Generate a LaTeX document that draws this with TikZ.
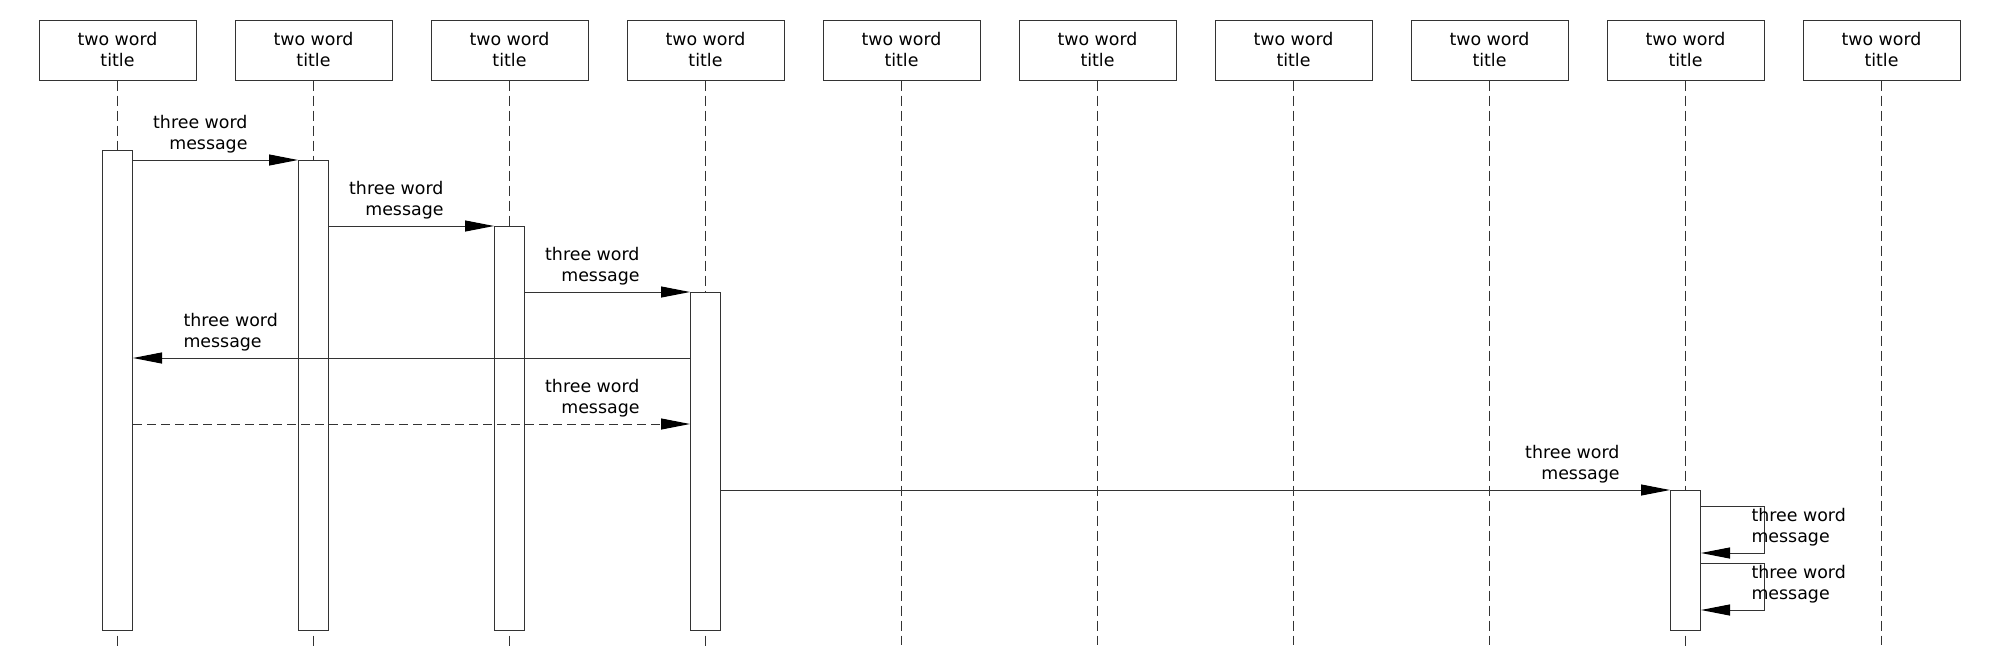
\documentclass[tikz,border=0pt]{standalone}
\usepackage{fontspec}
\setmainfont{DejaVu Sans}
\usetikzlibrary{arrows.meta}
\definecolor{ln}{HTML}{333333}
\tikzset{
  txt/.style={font=\fontsize{17.4}{21}\selectfont, inner sep=0pt},
  titlebox/.style={txt, draw=ln, fill=white, minimum width=157pt, minimum height=60pt, align=center},
  lifeline/.style={draw=ln, dash pattern=on 10pt off 5pt},
  actbox/.style={draw=ln, fill=white, minimum width=30pt, inner sep=0pt, anchor=north},
  msg/.style={draw=ln, -{Triangle[length=29pt,width=11pt,color=black]}},
  dmsg/.style={msg, dash pattern=on 9pt off 5pt},
  lblr/.style={txt, align=right, anchor=south east},
  lbll/.style={txt, align=left, anchor=south west},
  lbls/.style={txt, align=left, anchor=north west},
}
\begin{document}
\begin{tikzpicture}[x=1pt, y=-1pt, line width=1pt]
\useasboundingbox (0,0) rectangle (2000,670);
% titles and lifelines
\foreach \i in {1,...,10} {
  \node[titlebox] (t\i) at ({117.5+196*(\i-1)}, 50) {two word\\title};
}
\foreach \i/\e in {1/650,2/650,3/650,4/650,5/645,6/645,7/645,8/645,9/650,10/645} {
  \coordinate (e\i) at (t\i.south |- 0,\e);
  \draw[lifeline] (t\i.south) -- (e\i);
}
% activations
\node[actbox, minimum height=480pt] (a1) at (t1.south |- 0,150) {};
\node[actbox, minimum height=470pt] (a2) at (t2.south |- 0,160) {};
\node[actbox, minimum height=404pt] (a3) at (t3.south |- 0,226) {};
\node[actbox, minimum height=338pt] (a4) at (t4.south |- 0,292) {};
\node[actbox, minimum height=140pt] (a9) at (t9.south |- 0,490) {};
% message rows
\coordinate (m4) at (0,358);
\coordinate (m5) at (0,424);
\coordinate (s1) at (0,506);
\coordinate (s2) at (0,553);
\coordinate (s3) at (0,563);
\coordinate (s4) at (0,610);
% messages
\draw[msg] (a1.east |- a2.north) -- (a2.north west);
\node[lblr] (l1) at ([xshift=-50pt,yshift=6pt]a2.north west) {three word\\message};
\draw[msg] (a2.east |- a3.north) -- (a3.north west);
\node[lblr] (l2) at ([xshift=-50pt,yshift=6pt]a3.north west) {three word\\message};
\draw[msg] (a3.east |- a4.north) -- (a4.north west);
\node[lblr] (l3) at ([xshift=-50pt,yshift=6pt]a4.north west) {three word\\message};
\coordinate (r4s) at (a4.west |- m4);
\coordinate (r4e) at (a1.east |- m4);
\draw[msg] (r4s) -- (r4e);
\node[lbll] (l4) at ([xshift=50pt,yshift=6pt]r4e) {three word\\message};
\coordinate (r5s) at (a1.east |- m5);
\coordinate (r5e) at (a4.west |- m5);
\draw[dmsg] (r5s) -- (r5e);
\node[lblr] (l5) at ([xshift=-50pt,yshift=6pt]r5e) {three word\\message};
\draw[msg] (a4.east |- a9.north) -- (a9.north west);
\node[lblr] (l6) at ([xshift=-50pt,yshift=6pt]a9.north west) {three word\\message};
% self messages
\coordinate (q1) at (a9.east |- s1);
\coordinate (q2) at (a9.east |- s2);
\coordinate (q3) at (a9.east |- s3);
\coordinate (q4) at (a9.east |- s4);
\draw[msg] (q1) -- ++(63,0) |- (q2);
\node[lbls] (l7) at ([xshift=50pt,yshift=-2pt]q1) {three word\\message};
\draw[msg] (q3) -- ++(63,0) |- (q4);
\node[lbls] (l8) at ([xshift=50pt,yshift=-2pt]q3) {three word\\message};
\end{tikzpicture}
\end{document}
